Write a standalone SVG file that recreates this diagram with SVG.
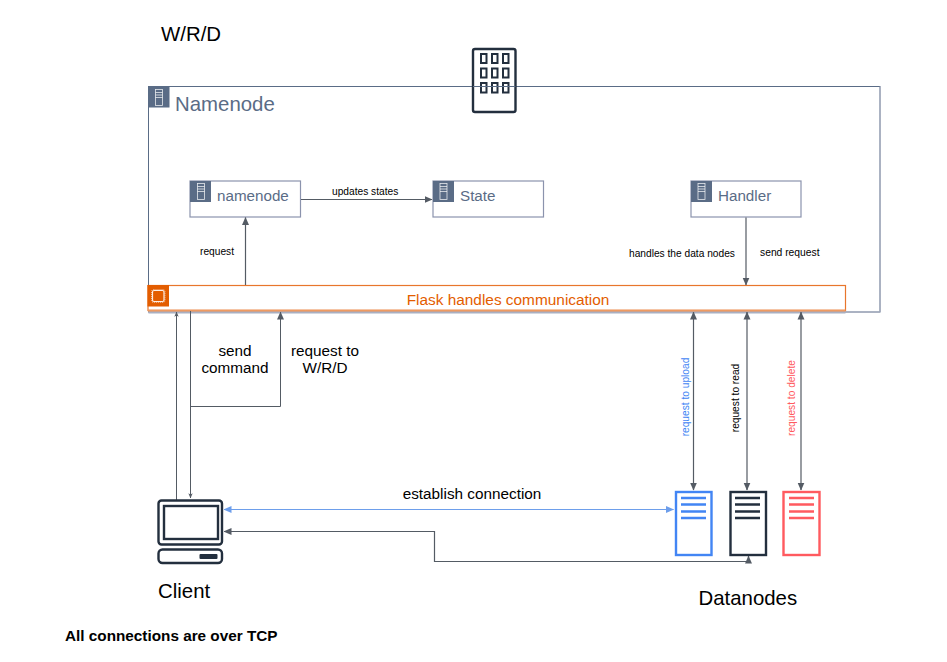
<svg xmlns="http://www.w3.org/2000/svg" width="947" height="662" viewBox="0 0 947 662">
<style>
text{font-family:"Liberation Sans",Arial,sans-serif;fill:#000}
.sm{font-size:10.2px}
.md{font-size:15.3px}
.lg{font-size:20.4px}
.box{fill:#fff;stroke:#8b93ad;stroke-width:1.2}
.tag{fill:#5a6c86;stroke:none}
.nm{fill:#5a6c86;font-size:15.2px}
.srv{fill:none;stroke:#fff;stroke-width:.8;opacity:.85}
.c{fill:none;stroke:#545b64;stroke-width:1.2}
.t{fill:none;stroke:#545b64;stroke-width:1}
.ink{fill:none;stroke:#232f3e;stroke-width:2.4}
.inkf{fill:#232f3e}
</style>
<defs>
<marker id="a" viewBox="0 0 8 8" refX="7.5" refY="4" markerWidth="8" markerHeight="8" markerUnits="userSpaceOnUse" orient="auto-start-reverse"><path d="M0,.5L8,4L0,7.5z" fill="#545b64"/></marker>
<marker id="s" viewBox="0 0 8 8" refX="7.500" refY="4" markerWidth="5" markerHeight="5" markerUnits="userSpaceOnUse" orient="auto"><path d="M0,.5L8,4L0,7.5L2,4z" fill="#545b64"/></marker>
<marker id="b" viewBox="0 0 8 8" refX="7.5" refY="4" markerWidth="8" markerHeight="8" markerUnits="userSpaceOnUse" orient="auto-start-reverse"><path d="M0,.5L8,4L0,7.5z" fill="#6d9eeb"/></marker>
<g id="srv"><rect x="-3.500" y="-6.500" width="7" height="16" class="srv"/><path d="M-3.500,-3.500H3.500M-3.500,-1H3.500M-3.500,1.500H3.500" class="srv"/></g>
</defs>

<g id="title"><text x="161" y="41" class="lg">W/R/D</text></g>

<g id="namenode-group">
<rect x="148.500" y="86.500" width="731.500" height="225.500" fill="#fff" stroke="#5a6c86" stroke-width="1"/>
<path d="M148.500,312H880V86.500" fill="none" stroke="#a9b0c2" stroke-width="1"/>
<rect x="148.500" y="86.500" width="21" height="21" class="tag"/>
<use href="#srv" x="159" y="96"/>
<text x="175" y="111" font-size="20.400" style="fill:#5a6c86">Namenode</text>
</g>

<g id="building">
<rect x="473" y="49" width="42.500" height="63" rx="2" class="ink"/>
<g fill="none" stroke="#232f3e" stroke-width="2">
<rect x="481" y="54" width="5.500" height="9"/><rect x="492" y="54" width="5.500" height="9"/><rect x="503" y="54" width="5.500" height="9"/>
<rect x="481" y="68.500" width="5.500" height="9"/><rect x="492" y="68.500" width="5.500" height="9"/><rect x="503" y="68.500" width="5.500" height="9"/>
<rect x="481" y="83" width="5.500" height="9.500"/><rect x="492" y="83" width="5.500" height="9.500"/><rect x="503" y="83" width="5.500" height="9.500"/>
</g>
<path d="M473,86.500H515.500" stroke="#5a6c86" stroke-width="1"/>
</g>

<g id="node-namenode">
<rect x="190" y="181" width="110.500" height="36" class="box"/>
<rect x="190" y="181" width="21" height="21" class="tag"/>
<use href="#srv" x="201" y="190"/>
<text x="217" y="201" class="nm">namenode</text>
</g>
<g id="node-state">
<rect x="433" y="181" width="110.500" height="36" class="box"/>
<rect x="433" y="181" width="21" height="21" class="tag"/>
<use href="#srv" x="443.500" y="190"/>
<text x="460" y="201" class="nm">State</text>
</g>
<g id="node-handler">
<rect x="691" y="181" width="110" height="36" class="box"/>
<rect x="691" y="181" width="21" height="21" class="tag"/>
<use href="#srv" x="701.500" y="190"/>
<text x="718" y="201" class="nm">Handler</text>
</g>

<g id="node-flask">
<path d="M148.500,311H845.500" stroke="#a9b0c2" stroke-width="3" transform="translate(0,1)"/>
<rect x="148" y="285.500" width="697.500" height="25" fill="#fff" stroke="#e8762c" stroke-width="1.200"/>
<path d="M148,310.500H845.500" stroke="#ee9a62" stroke-width="1.800"/>
<rect x="147.500" y="285" width="21.500" height="21.500" fill="#e35d00"/>
<rect x="152.500" y="290.500" width="11.500" height="11" rx="1.500" fill="none" stroke="#fff" stroke-width="1.200" opacity=".9"/>
<rect x="151.500" y="289.500" width="13.500" height="13" rx="2" fill="none" stroke="#fff" stroke-width=".8" stroke-dasharray="1 1" opacity=".7"/>
<text x="508" y="305" text-anchor="middle" font-size="15.400" style="fill:#e35d00">Flask handles communication</text>
</g>

<g id="connectors">
<path d="M301,199.500H432" class="c" marker-end="url(#a)"/>
<path d="M245.500,285V217.500" class="c" marker-end="url(#a)"/>
<path d="M746,217.500V285" class="c" marker-end="url(#a)"/>
<path d="M693.500,312V490" class="c" marker-start="url(#a)" marker-end="url(#a)"/>
<path d="M747,312V490" class="c" marker-start="url(#a)" marker-end="url(#a)"/>
<path d="M801,312V490" class="c" marker-start="url(#a)" marker-end="url(#a)"/>
<path d="M176.500,500V312" class="t" marker-end="url(#s)"/>
<path d="M190.500,311V498" class="t" marker-end="url(#s)"/>
<path d="M190.500,406.500H280.500V312" class="t" marker-end="url(#a)"/>
<path d="M224,509.500H673.500" fill="none" stroke="#6d9eeb" stroke-width="1.200" marker-start="url(#b)" marker-end="url(#b)"/>
<path d="M224,531.500H434.500V561.500H748.500V556" class="c" marker-start="url(#a)" marker-end="url(#a)"/>
</g>

<g id="client">
<rect x="158.500" y="500.500" width="63.500" height="44" rx="3" class="ink"/>
<rect x="164" y="506" width="54" height="33" class="ink"/>
<rect x="158.500" y="549.500" width="63.500" height="13.500" rx="4" class="ink"/>
<rect x="199.500" y="554" width="18" height="5" rx="1" class="inkf"/>
<text x="158" y="598" class="lg">Client</text>
</g>

<g id="datanode-blue" stroke="#4285f4" fill="none">
<rect x="676" y="492" width="35.500" height="63" stroke-width="2.400"/>
<path d="M681,498H706M681,504.500H706M681,511.500H706M681,518H706" stroke-width="2.400"/>
</g>
<g id="datanode-black" stroke="#232f3e" fill="none">
<rect x="730.500" y="492" width="35.500" height="63" stroke-width="2.400"/>
<path d="M735,498H760M735,504.500H760M735,511.500H760M735,518H760" stroke-width="2.400"/>
</g>
<g id="datanode-red" stroke="#ff5a5f" fill="none">
<rect x="783.500" y="492" width="36" height="63" stroke-width="2.400"/>
<path d="M789,498H814M789,504.500H814M789,511.500H814M789,518H814" stroke-width="2.400"/>
</g>

<g id="labels">
<text x="332" y="195" class="sm">updates states</text>
<text x="200" y="255" class="sm">request</text>
<text x="629" y="257" class="sm">handles the data nodes</text>
<text x="760" y="256" class="sm" style="font-size:10.300px">send request</text>
<text x="235" y="356" class="md" text-anchor="middle">send</text>
<text x="235" y="373" class="md" text-anchor="middle">command</text>
<text x="325" y="356" class="md" text-anchor="middle">request to</text>
<text x="325" y="373" class="md" text-anchor="middle">W/R/D</text>
<text x="472" y="499" class="md" text-anchor="middle">establish connection</text>
<text transform="translate(689,397) rotate(-90)" class="sm" text-anchor="middle" style="fill:#4285f4">request to upload</text>
<text transform="translate(739,398) rotate(-90)" class="sm" text-anchor="middle">request to read</text>
<text transform="translate(795,398) rotate(-90)" class="sm" text-anchor="middle" style="fill:#ff5a5f">request to delete</text>
<text x="698.500" y="605" class="lg">Datanodes</text>
<text x="65" y="641" font-size="15.300" font-weight="bold">All connections are over TCP</text>
</g>
</svg>
